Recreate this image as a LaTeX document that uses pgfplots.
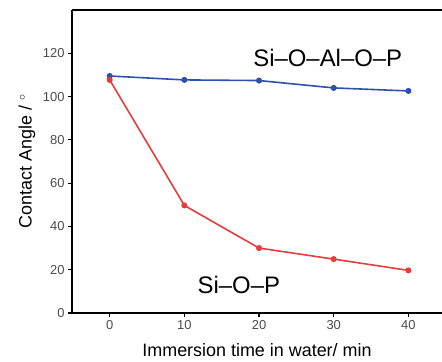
\documentclass[border=0pt]{standalone}
\usepackage{pgfplots}
\pgfplotsset{compat=1.18}
\usepackage{fontspec}
\setmainfont{Liberation Sans}
\definecolor{cblue}{RGB}{45,80,170}
\definecolor{cred}{RGB}{230,60,60}
\begin{document}
\begin{tikzpicture}
\begin{axis}[
  scale only axis, width=370bp, height=303bp,
  xmin=-5.05, xmax=44.5, ymin=0, ymax=140,
  axis lines*=left,
  axis line style={line width=2.2pt, -},
  xtick={0,10,20,30,40}, ytick={0,20,40,60,80,100,120},
  tick align=outside, major tick length=4bp,
  tick style={line width=1.2pt, black},
  /pgf/number format/assume math mode=true,
  tick label style={font=\fontsize{13}{14}\selectfont, text=black!70},
  xlabel={Immersion time in water/ min},
  ylabel={Contact Angle / $^\circ$},
  every axis x label/.style={at={(axis description cs:0.5,0)}, yshift=-37bp, anchor=center, font=\fontsize{18}{20}\selectfont},
  every axis y label/.style={at={(axis description cs:0,0.5)}, xshift=-45bp, rotate=90, anchor=center, font=\fontsize{18}{20}\selectfont},
  clip=false,
]
\draw[line width=2.2pt] (rel axis cs:0,1) -- (rel axis cs:1,1);
\coordinate (bl) at (rel axis cs:0,0);
\coordinate (tr) at (rel axis cs:1,1);
\addplot[cblue, line width=1.6pt, mark=*, mark size=2.2pt] coordinates {
 (0,109.5) (10,107.7) (20,107.4) (30,104) (40,102.6)};
\addplot[cred, line width=1.6pt, mark=*, mark size=2.2pt] coordinates {
 (0,107.7) (10,49.7) (20,30) (30,24.9) (40,19.7)};
\node[font=\fontsize{24}{28}\selectfont] at (axis cs:29.2,117.7) {Si--O--Al--O--P};
\node[font=\fontsize{24}{28}\selectfont] at (axis cs:17.3,13) {Si--O--P};
\end{axis}
\pgfresetboundingbox
\path ([shift={(-72bp,-49bp)}]bl) rectangle ([shift={(0,10bp)}]tr);
\end{tikzpicture}
\end{document}
